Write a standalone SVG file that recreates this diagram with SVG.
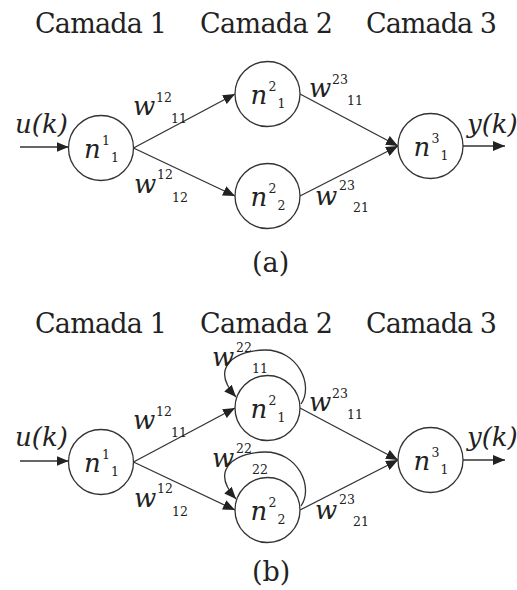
<svg xmlns="http://www.w3.org/2000/svg" width="517" height="590" viewBox="0 0 517 590">
<style>
.t{font-family:"DejaVu Serif","Liberation Serif",serif;font-size:27px;fill:#222}
.m{font-family:"DejaVu Serif","Liberation Serif",serif;font-style:italic;font-size:26px;fill:#222}
.s{font-family:"DejaVu Serif","Liberation Serif",serif;font-size:12.5px;fill:#222}
.node circle{fill:#fff;stroke:#333;stroke-width:1.3}
.e{fill:none;stroke:#333;stroke-width:1.3;marker-end:url(#ah)}
</style>
<defs>
<marker id="ah" markerWidth="13" markerHeight="10" refX="12" refY="5" orient="auto" markerUnits="userSpaceOnUse"><path d="M0,0 L12,5 L0,10 z" fill="#222"/></marker>
</defs>
<rect width="517" height="590" fill="#fff"/>
<g id="titles">
<text class="t" x="35" y="33" textLength="132">Camada 1</text>
<text class="t" x="200" y="33" textLength="133">Camada 2</text>
<text class="t" x="366" y="33" textLength="131">Camada 3</text>
<text class="t" x="252" y="272">(a)</text>
<text class="t" x="35" y="333" textLength="132">Camada 1</text>
<text class="t" x="200" y="333" textLength="133">Camada 2</text>
<text class="t" x="366" y="333" textLength="131">Camada 3</text>
<text class="t" x="252" y="581">(b)</text>
</g>
<g id="connectors">
<path class="e" d="M20,147 L68.5,147"/>
<path class="e" d="M133.5,148 L235,94"/>
<path class="e" d="M133.5,148 L235,196"/>
<path class="e" d="M300,94 L398,146"/>
<path class="e" d="M300,196 L398,146"/>
<path class="e" d="M463,146 L505,146"/>
<path class="e" d="M20,461 L68.5,461"/>
<path class="e" d="M133.5,462 L235,408"/>
<path class="e" d="M133.5,462 L235,510"/>
<path class="e" d="M300,408 L398,460"/>
<path class="e" d="M300,510 L398,460"/>
<path class="e" d="M463,460 L505,460"/>
<path class="e" d="M301,404 C314,385 298,350 265,350 C238,350 208,366 236,397"/>
<path class="e" d="M301,506 C314,487 298,452 265,452 C238,452 208,468 236,499"/>
<g id="labels">
<text class="m" x="15" y="133">u(k)</text>
<text class="m" x="467" y="133">y(k)</text>
<text class="m" x="133" y="115">w</text><text class="s" x="156" y="102">12</text><text class="s" x="171" y="123">11</text>
<text class="m" x="134" y="193">w</text><text class="s" x="157" y="179">12</text><text class="s" x="172" y="202">12</text>
<text class="m" x="309" y="97">w</text><text class="s" x="332" y="84">23</text><text class="s" x="347" y="105">11</text>
<text class="m" x="315" y="205">w</text><text class="s" x="339" y="190">23</text><text class="s" x="353" y="212">21</text>
<text class="m" x="15" y="446">u(k)</text>
<text class="m" x="467" y="446">y(k)</text>
<text class="m" x="133" y="429">w</text><text class="s" x="156" y="416">12</text><text class="s" x="171" y="437">11</text>
<text class="m" x="134" y="507">w</text><text class="s" x="157" y="493">12</text><text class="s" x="172" y="516">12</text>
<text class="m" x="309" y="411">w</text><text class="s" x="332" y="398">23</text><text class="s" x="347" y="419">11</text>
<text class="m" x="315" y="519">w</text><text class="s" x="339" y="504">23</text><text class="s" x="353" y="526">21</text>
<text class="m" x="212" y="366">w</text><text class="s" x="236" y="352">22</text><text class="s" x="252" y="373">11</text>
<text class="m" x="212" y="467">w</text><text class="s" x="236" y="453">22</text><text class="s" x="252" y="474">22</text>
</g>
</g>
<g id="a_n11" class="node"><circle cx="101" cy="148" r="32.5"/><text class="m" x="84" y="158">n</text><text class="s" x="102" y="145">1</text><text class="s" x="111" y="162">1</text></g>
<g id="a_n21" class="node"><circle cx="267.5" cy="94" r="32.5"/><text class="m" x="250.5" y="104">n</text><text class="s" x="268.5" y="91">2</text><text class="s" x="277.5" y="108">1</text></g>
<g id="a_n22" class="node"><circle cx="267.5" cy="196" r="32.5"/><text class="m" x="250.5" y="206">n</text><text class="s" x="268.5" y="193">2</text><text class="s" x="277.5" y="210">2</text></g>
<g id="a_n31" class="node"><circle cx="430.5" cy="146" r="32.5"/><text class="m" x="413.5" y="156">n</text><text class="s" x="431.5" y="143">3</text><text class="s" x="440.5" y="160">1</text></g>
<g id="b_n11" class="node"><circle cx="101" cy="462" r="32.5"/><text class="m" x="84" y="472">n</text><text class="s" x="102" y="459">1</text><text class="s" x="111" y="476">1</text></g>
<g id="b_n21" class="node"><circle cx="267.5" cy="408" r="32.5"/><text class="m" x="250.5" y="418">n</text><text class="s" x="268.5" y="405">2</text><text class="s" x="277.5" y="422">1</text></g>
<g id="b_n22" class="node"><circle cx="267.5" cy="510" r="32.5"/><text class="m" x="250.5" y="520">n</text><text class="s" x="268.5" y="507">2</text><text class="s" x="277.5" y="524">2</text></g>
<g id="b_n31" class="node"><circle cx="430.5" cy="460" r="32.5"/><text class="m" x="413.5" y="470">n</text><text class="s" x="431.5" y="457">3</text><text class="s" x="440.5" y="474">1</text></g>
</svg>
